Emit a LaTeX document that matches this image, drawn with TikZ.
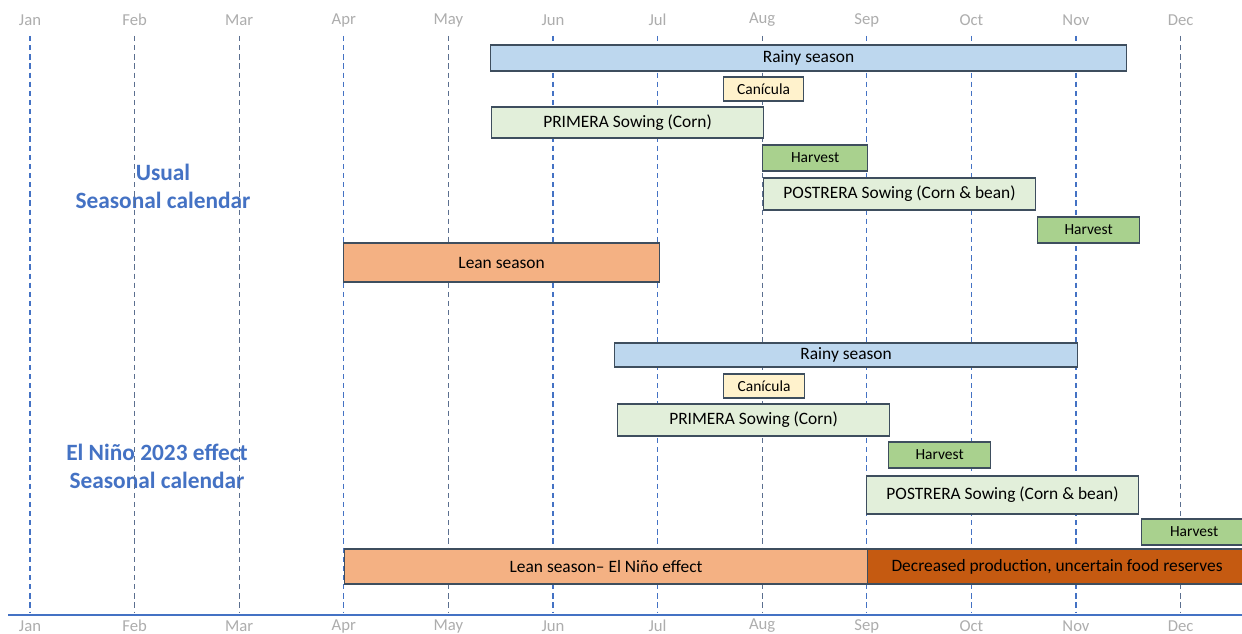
\documentclass[tikz,border=0pt]{standalone}
\usepackage{fontspec}
\setmainfont{Carlito}
\usepackage{xcolor}

\definecolor{rainc}{HTML}{BDD7EE}
\definecolor{canic}{HTML}{FFF2CC}
\definecolor{sowc}{HTML}{E2EFDA}
\definecolor{harvc}{HTML}{A9D18E}
\definecolor{leanc}{HTML}{F4B183}
\definecolor{decrc}{HTML}{C55A11}
\definecolor{edgec}{HTML}{3E4E5E}
\definecolor{mblue}{HTML}{4472C4}
\definecolor{mslate}{HTML}{5B6F8F}
\definecolor{mgray}{HTML}{ADADAD}

\begin{document}
\begin{tikzpicture}[
  x=0.02cm, y=-0.02cm,
  bar/.style={draw=edgec, line width=0.7pt, anchor=west, inner sep=0pt,
    font=\fontsize{9.9}{11}\selectfont},
  small/.style={bar, font=\fontsize{8.8}{10}\selectfont},
  month/.style={text=mgray, font=\fontsize{9.5}{11}\selectfont},
  title/.style={text=mblue, align=center, font=\bfseries\fontsize{13.3}{16}\selectfont},
  mline/.style={dash pattern=on 3pt off 2.2pt, line width=0.7pt},
]
\clip (0,0) rectangle (1242,634);
\fill[white] (0,0) rectangle (1242,634);

% titles
\node[title] (usual) at (163,186) {Usual\\Seasonal calendar};
\node[title] (nino) at (157,466) {El Niño 2023 effect\\Seasonal calendar};

% months
\foreach \m/\c [count=\i from 0] in {Jan/mblue,Feb/mslate,Mar/mslate,Apr/mblue,May/mslate,Jun/mblue,
    Jul/mblue,Aug/mslate,Sep/mblue,Oct/mblue,Nov/mblue,Dec/mslate} {
  \pgfmathsetmacro\mx{30+104.6*\i}
  \node[month] (top\m) at (\mx,20) {\m};
  \node[month] (bot\m) at (\mx,626) {\m};
  \draw[mline, \c] (\mx,36) -- (\mx,613);
}
\draw[mblue, line width=1.3pt] (8,615) -- (1242,615);

% usual calendar
\node[bar, fill=rainc, minimum width=12.72cm, minimum height=0.52cm] (rain1) at (490,58) {Rainy season};
\node[small, fill=canic, minimum width=1.6cm, minimum height=0.48cm] (can1) at (723,89) {Canícula};
\node[bar, fill=sowc, minimum width=5.44cm, minimum height=0.62cm] (prim1) at (491,122.5) {PRIMERA Sowing (Corn)};
\node[small, fill=harvc, minimum width=2.1cm, minimum height=0.52cm] (harv1) at (762,158) {Harvest};
\node[bar, fill=sowc, minimum width=5.44cm, minimum height=0.64cm] (post1) at (763,194) {POSTRERA Sowing (Corn \& bean)};
\node[small, fill=harvc, minimum width=2.04cm, minimum height=0.52cm] (harv2) at (1037,230) {Harvest};
\node[bar, fill=leanc, minimum width=6.32cm, minimum height=0.78cm] (lean1) at (343,262.5) {Lean season};

% el nino calendar
\node[bar, fill=rainc, minimum width=9.26cm, minimum height=0.48cm] (rain2) at (614,355) {Rainy season};
\node[small, fill=canic, minimum width=1.62cm, minimum height=0.48cm] (can2) at (723,386) {Canícula};
\node[bar, fill=sowc, minimum width=5.44cm, minimum height=0.64cm] (prim2) at (617,420) {PRIMERA Sowing (Corn)};
\node[small, fill=harvc, minimum width=2.04cm, minimum height=0.52cm] (harv3) at (888,455) {Harvest};
\node[bar, fill=sowc, minimum width=5.44cm, minimum height=0.76cm] (post2) at (866,495) {POSTRERA Sowing (Corn \& bean)};
\node[small, fill=harvc, minimum width=2.1cm, minimum height=0.52cm] (harv4) at (1141,532) {Harvest};
\node[bar, fill=leanc, minimum width=10.46cm, minimum height=0.7cm] (lean2) at (344,566.5) {Lean season-- El Niño effect};
\node[bar, fill=decrc, minimum width=7.58cm, minimum height=0.7cm] (decr) at (867,566.5) {Decreased production, uncertain food reserves};
\end{tikzpicture}
\end{document}
